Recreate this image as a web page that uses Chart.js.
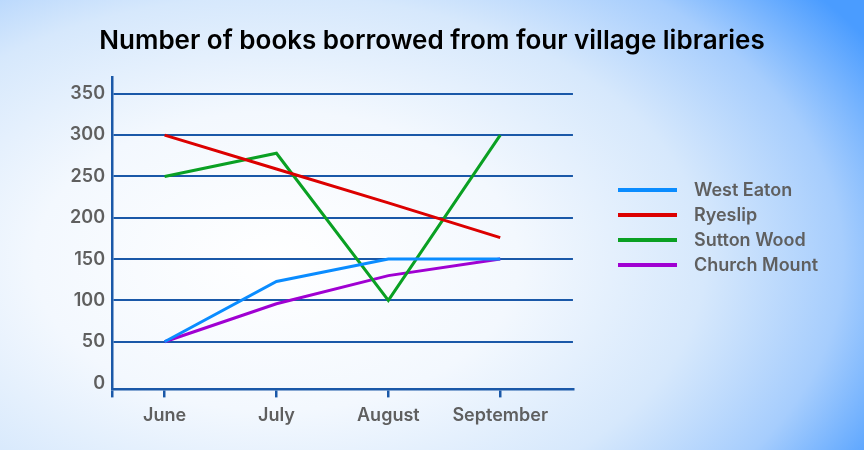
<!DOCTYPE html>
<html>
<head>
<meta charset="utf-8">
<script src="https://cdn.jsdelivr.net/npm/chart.js@4.4.0/dist/chart.umd.min.js"></script>
<style>
  html, body { margin: 0; padding: 0; }
  body {
    width: 864px; height: 450px; overflow: hidden;
    background: radial-gradient(ellipse 80% 95% at 32% 58%, #ffffff 0%, #f3f8fe 35%, #d6e8fc 62%, #a6cdfd 82%, #4a9cff 100%);
  }
  #wrap { position: relative; width: 864px; height: 450px; }
</style>
</head>
<body>
<div id="wrap"><canvas id="chart"></canvas></div>
<script>
const months = ['June', 'July', 'August', 'September'];
const westEaton = [50, 123, 150, 150];
const ryeslip = [300, 259, 218, 176];
const suttonWood = [250, 278, 100, 300];
const churchMount = [50, 96, 130, 150];
const yTicks = [0, 50, 100, 150, 200, 250, 300, 350];

const gridColor = '#1a58a8';
const labelColor = '#5f5f5f';
const labelFont = { family: 'Inter', size: 18, weight: '600' };

// legend marker: a line with some empty room after it
function legendLine(color) {
  const c = document.createElement('canvas');
  c.width = 67; c.height = 4;
  const g = c.getContext('2d');
  g.fillStyle = color;
  g.fillRect(0, 0, 59, 4);
  return c;
}

function series(label, values, color) {
  return {
    label: label,
    data: months.map((m, i) => ({ x: i, y: values[i] })),
    borderColor: color,
    backgroundColor: color,
    borderWidth: 3,
    pointRadius: 0,
    pointHoverRadius: 0,
    pointStyle: legendLine(color),
    tension: 0
  };
}

new Chart(document.getElementById('chart'), {
  type: 'line',
  data: {
    datasets: [
      series('West Eaton', westEaton, '#0a8cff'),
      series('Ryeslip', ryeslip, '#dc0000'),
      series('Sutton Wood', suttonWood, '#0aa023'),
      series('Church Mount', churchMount, '#a000d2')
    ]
  },
  options: {
    responsive: true,
    maintainAspectRatio: false,
    animation: false,
    layout: { padding: { left: 36, right: 36, top: 0, bottom: 17 } },
    plugins: {
      title: {
        display: true,
        text: 'Number of books borrowed from four village libraries',
        color: '#000000',
        font: { family: 'Inter', size: 26, weight: '600' },
        padding: { top: 26, bottom: 20 }
      },
      legend: {
        position: 'right',
        maxWidth: 320,
        title: { display: true, text: '', font: { size: 12 }, padding: { top: 4, bottom: 4 } },
        labels: {
          usePointStyle: true,
          pointStyleWidth: 67,
          padding: 7,
          color: labelColor,
          font: labelFont
        }
      },
      tooltip: { enabled: false }
    },
    scales: {
      x: {
        type: 'linear',
        min: -0.47,
        max: 3.65,
        afterBuildTicks: s => { s.ticks = [{ value: -0.47 }].concat(months.map((m, i) => ({ value: i }))); },
        ticks: {
          callback: v => months[v] !== undefined ? months[v] : '',
          padding: 7,
          color: labelColor,
          font: labelFont,
          maxRotation: 0,
          autoSkip: false
        },
        grid: { drawOnChartArea: false, drawTicks: true, tickLength: 8, color: gridColor, lineWidth: 2.5 },
        border: { color: gridColor, width: 2.5 }
      },
      y: {
        min: -7.6,
        max: 370,
        afterBuildTicks: s => { s.ticks = yTicks.map(v => ({ value: v })); },
        afterFit: s => { s.width = 76; },
        ticks: { padding: 7, color: labelColor, font: labelFont },
        grid: {
          drawTicks: false,
          color: ctx => (ctx.tick && ctx.tick.value === 0) ? 'rgba(0,0,0,0)' : gridColor,
          lineWidth: 2
        },
        border: { color: gridColor, width: 2.5 }
      },
      gap: {
        position: 'right',
        grid: { display: false },
        border: { display: false },
        ticks: { display: false },
        afterFit: s => { s.width = 38; }
      }
    }
  }
});
</script>
</body>
</html>
